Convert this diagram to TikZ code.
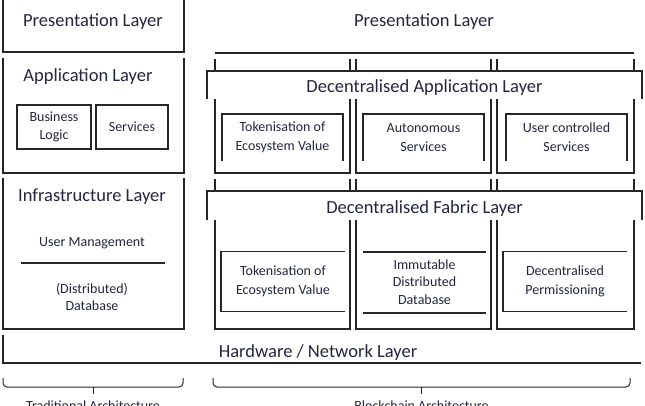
\documentclass[tikz,border=0pt]{standalone}
\usepackage{fontspec}
\setmainfont{Carlito}
\usetikzlibrary{positioning}
\definecolor{ink}{RGB}{35,38,62}
\definecolor{rule}{RGB}{38,38,38}

\begin{document}
\begin{tikzpicture} %
		[
			x=1pt, y=-1pt,
			every node/.style={text=ink},
			every text node part/.style={align=center},
			frame/.style={rectangle, inner sep=0pt, outer sep=0pt},
			box/.style={frame, draw=rule, line width=1.3pt},
			edge/.style={draw=rule, line width=1.3pt},
			band/.style={frame, fill=white, minimum width=435pt},
			column/.style={frame, minimum width=135pt},
			inner/.style={frame, minimum width=121pt, font={\fontsize{14}{19}\selectfont}},
			title/.style={font={\fontsize{18.5}{22}\selectfont}},
			small/.style={font={\fontsize{14}{17}\selectfont}},
			hook/.style={draw=rule, line width=1pt, rounded corners=4pt},
		]
		\useasboundingbox (0,0) rectangle (645,405);

		% existing stack, left
		\node[frame, minimum width=181pt, minimum height=52pt] (lpres) at (93.5,26) {};
		\node[title] (lpres-t) at (93,21.5) {Presentation Layer};
		\node[frame, minimum width=181pt, minimum height=115pt] (lapp) at (93.5,115.5) {};
		\node[title] (lapp-t) at (88,76.5) {Application Layer};
		\node[box, minimum width=74pt, minimum height=44pt, font={\fontsize{14}{18}\selectfont}] (biz) at (54,127) {Business\\Logic};
		\node[box, minimum width=72pt, minimum height=44pt, font={\fontsize{14}{18}\selectfont}] (serv) at (132,127) {Services};
		\node[frame, minimum width=181pt, minimum height=151pt] (linfra) at (93.5,253.5) {};
		\node[title] (linfra-t) at (92,196.5) {Infrastructure Layer};
		\node[small] (umgmt) at (92,243) {User Management};
		\coordinate (um-l) at (21,263);
		\coordinate (um-r) at (165,263);
		\node[small] (ddb) at (92,296.5) {(Distributed)\\Database};

		\draw[edge] (lpres.north west) -- (lpres.south west) -- (lpres.south east) -- (lpres.north east);
		\draw[edge] (lapp.north west) -- (lapp.south west) -- (lapp.south east) -- (lapp.north east);
		\draw[edge] (linfra.north west) -- (linfra.south west) -- (linfra.south east) -- (linfra.north east);
		\draw[edge] (um-l) -- (um-r);

		% blockchain stack, right
		\node[frame, minimum width=419pt, minimum height=53pt] (rpres) at (424.5,26.5) {};
		\node[title] (rpres-t) at (424,21.5) {Presentation Layer};
		\draw[edge] (rpres.south west) -- (rpres.south east);

		\node[column, minimum height=114pt] (c1u) at (282.5,116) {};
		\node[column, minimum height=114pt] (c2u) at (423.5,116) {};
		\node[column, minimum height=114pt, minimum width=137pt] (c3u) at (565.5,116) {};
		\node[column, minimum height=150pt] (c1l) at (282.5,254) {};
		\node[column, minimum height=150pt] (c2l) at (423.5,254) {};
		\node[column, minimum height=150pt, minimum width=137pt] (c3l) at (565.5,254) {};
		\foreach \c in {c1u,c2u,c3u,c1l,c2l,c3l}
			\draw[edge] (\c.north west) -- (\c.south west) -- (\c.south east) -- (\c.north east);

		\node[band, minimum height=28pt] (dapp) at (424.5,85) {};
		\node[title] (dapp-t) at (424.5,88) {Decentralised Application Layer};
		\draw[edge] (dapp.south west) -- (dapp.north west) -- (dapp.north east) -- (dapp.south east);
		\node[band, minimum height=29pt] (dfab) at (424.5,205.5) {};
		\node[title] (dfab-t) at (424.5,209) {Decentralised Fabric Layer};
		\draw[edge] (dfab.south west) -- (dfab.north west) -- (dfab.north east) -- (dfab.south east);

		\node[inner, minimum height=47pt] (i1u) at (282.5,137.5) {Tokenisation of\\Ecosystem Value};
		\node[inner, minimum height=47pt] (i2u) at (423.5,137.5) {Autonomous\\Services};
		\node[inner, minimum height=47pt] (i3u) at (566.5,137.5) {User controlled\\Services};
		\foreach \i in {i1u,i2u,i3u}
			\draw[edge] (\i.south west) -- (\i.north west) -- (\i.north east) -- (\i.south east);

		\node[inner, minimum height=60pt, minimum width=124pt] (i1l) at (283,281.5) {Tokenisation of\\Ecosystem Value};
		\node[inner, minimum height=60pt, minimum width=123pt, font={\fontsize{14}{17.5}\selectfont}] (i2l) at (424.5,282) {Immutable\\Distributed\\Database};
		\node[inner, minimum height=60pt, minimum width=124pt] (i3l) at (565,281.5) {Decentralised\\Permissioning};
		\foreach \i in {i1l,i3l}
			\draw[edge] (\i.north east) -- (\i.north west) -- (\i.south west) -- (\i.south east);
		\draw[edge] (i2l.north west) -- (i2l.north east);
		\draw[edge] ([yshift=-1pt]i2l.south west) -- ([yshift=-1pt]i2l.south east);

		% shared base
		\node[frame, minimum width=638pt, minimum height=28pt] (hw) at (322,349) {};
		\node[title] (hw-t) at (318,353) {Hardware / Network Layer};
		\draw[edge] (hw.north west) -- (hw.south west) -- (hw.south east);

		% braces
		\coordinate (lb-a) at (3,378);
		\coordinate (lb-m) at (93,387);
		\coordinate (lb-b) at (183,378);
		\coordinate (rb-a) at (213,378);
		\coordinate (rb-m) at (421.5,387);
		\coordinate (rb-b) at (630,378);
		\draw[hook] (lb-a) |- (lb-m) -| (lb-b);
		\draw[hook] (lb-m) -- ++(0,7);
		\draw[hook] (rb-a) |- (rb-m) -| (rb-b);
		\draw[hook] (rb-m) -- ++(0,7);
		\node[small] (lb-t) at (93,406) {Traditional Architecture};
		\node[small] (rb-t) at (421.5,406) {Blockchain Architecture};
	\end{tikzpicture}
\end{document}
